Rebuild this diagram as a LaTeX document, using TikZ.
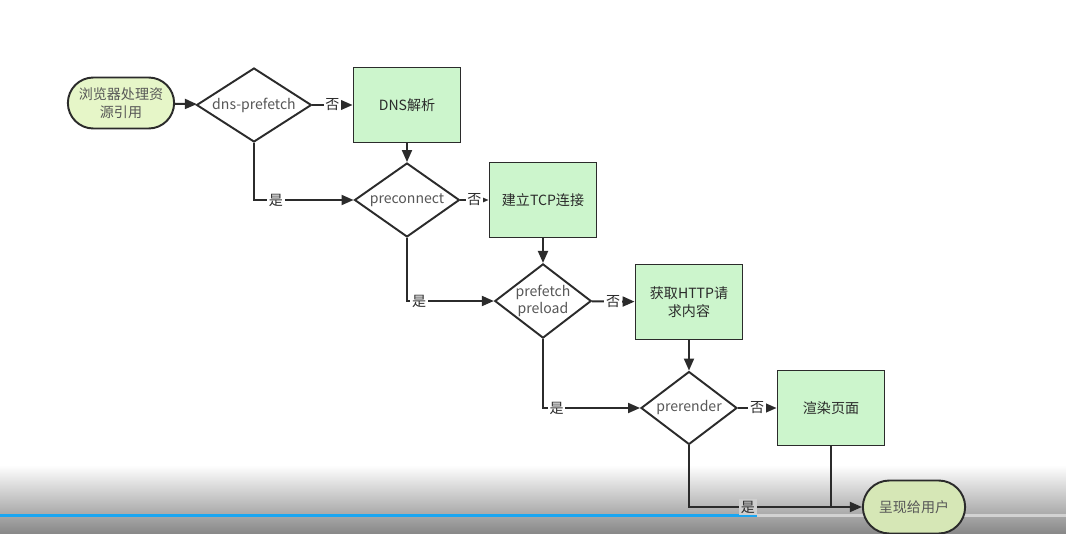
\documentclass[tikz,border=0pt]{standalone}
\usepackage{fontspec}
\setmainfont{Noto Sans CJK SC}
\usetikzlibrary{arrows.meta,shapes.geometric,shapes.misc}
\definecolor{Ink}{HTML}{2B2B2B}
\definecolor{Label}{HTML}{575757}
\definecolor{StartFill}{HTML}{E6F6C8}
\definecolor{EndFill}{HTML}{D6E7B6}
\definecolor{StepFill}{HTML}{CCF5CC}
\definecolor{Shade}{HTML}{878787}
\definecolor{Bar}{HTML}{1AA6F2}
\tikzset{terminal/.style={rounded rectangle,draw=Ink,line width=1.1pt,fill=StartFill,minimum width=2.12cm,minimum height=1.02cm,align=center,text=Label},check/.style={diamond,aspect=1.55,draw=Ink,line width=1.1pt,fill=white,inner sep=0pt,minimum height=1.48cm,align=center,text=Label},stepbox/.style={rectangle,draw=Ink,line width=1.1pt,fill=StepFill,minimum width=2.14cm,minimum height=1.5cm,align=center,text=Ink},flow/.style={draw=Ink,line width=1.1pt,-{Triangle[length=2.4mm,width=2mm]}},plain/.style={draw=Ink,line width=1.1pt},answer/.style={fill=white,inner sep=1pt,text=Ink}}
\begin{document}
\begin{tikzpicture}[x=0.02cm,y=-0.02cm,font=\fontsize{8}{10}\selectfont]
\useasboundingbox (0,0) rectangle (1066,534);
\fill[white] (0,0) rectangle (1066,534);
\shade[top color=white,bottom color=Shade] (0,465) rectangle (1066,534);
\fill[gray!35] (757,514) rectangle (1066,516.5);\fill[Bar] (0,513.5) rectangle (757,517);
\node[terminal] (browser) at (121,103) {浏览器处理资\\源引用};
\node[check,minimum width=2.3cm] (dnspre) at (254,105) {dns-prefetch};
\node[stepbox] (dns) at (407,105) {DNS解析};
\node[check,minimum width=2.1cm] (precon) at (407,200) {preconnect};
\node[stepbox] (tcp) at (543,200) {建立TCP连接};
\node[check,aspect=1.3,minimum width=1.9cm,minimum height=1.46cm] (prefetch) at (543,301) {prefetch\\preload};
\node[stepbox] (http) at (689,302) {获取HTTP请\\求内容};
\node[check,minimum width=1.92cm,minimum height=1.46cm] (prerender) at (689,408) {prerender};
\node[stepbox] (render) at (831,408) {渲染页面};
\node[terminal,fill=EndFill,minimum width=2.28cm,minimum height=1.06cm] (user) at (914,507) {呈现给用户};
\draw[flow] (browser)--(dnspre);
\draw[flow] (dnspre)--node[answer] {否} (dns);\draw[flow] (dns)--(precon);
\draw[flow] (dnspre.south) |- node[answer,pos=0.61] {是} (precon.west);
\draw[flow] (precon)--node[answer] {否} (tcp);\draw[flow] (tcp)--(prefetch);
\draw[flow] (precon.south) |- node[answer,pos=0.57] {是} (prefetch.west);
\draw[flow] (prefetch)--node[answer] {否} (http);\draw[flow] (http)--(prerender);
\draw[flow] (prefetch.south) |- node[answer,pos=0.57] {是} (prerender.west);
\draw[flow] (prerender)--node[answer] {否} (render);
\draw[flow] (prerender.south) |- node[answer,pos=0.67,fill=Shade!40!white] {是} (user.west);
\draw[plain] (render.south)--(render.south |- user.west);
\end{tikzpicture}
\end{document}
